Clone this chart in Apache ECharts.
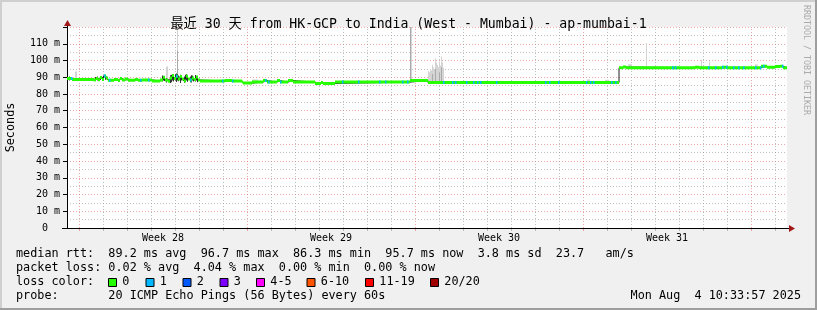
<!DOCTYPE html>
<html><head><meta charset="utf-8">
<script src="https://cdn.jsdelivr.net/npm/echarts@6/dist/echarts.min.js"></script>
<style>html,body{margin:0;padding:0;background:#f0f0f0;}#c{width:817px;height:310px;}</style>
</head><body><div id="c"></div>
<script>
// ---- data (x = hours since graph start, 30 days = 720 h; y = milliseconds) ----
const medianHours  = [0,5,27,29,31,33,35,37,39,41,47,51,53,55,58,61,68,71,75,85,93,96,98,101,103,105,107,109,111,113,115,117,119,121,123,125,127,129,131,133,158,165,175,176,185,196,200,210,213,221,226,248,254,256,268,343,361,552,556,559,628,632,655,660,690,694,700,708,713,716,720];
const medianValues = [89.3,88.6,88.4,89.2,88.5,89.8,88.7,90.8,89.6,88.2,88.6,88.1,89.3,88.3,88.9,88.2,88.7,88.2,88.4,87.8,88.3,90.0,88.4,87.6,89.5,91.0,89.2,90.6,88.9,90.4,89.0,87.7,90.6,89.0,88.3,89.6,88.6,90.2,88.4,87.8,88.0,87.8,87.2,86.5,87.1,88.0,87.1,88.0,87.1,88.0,87.1,86.3,86.9,86.3,87.1,88.0,86.8,95.6,96.1,95.7,96.0,95.6,95.9,95.6,95.7,96.5,96.0,96.4,96.6,95.7,95.7];
const loss1Hours = [4,37,42,73,81,109,123,155,165,198,201,213,275,291,312,318,335,340,376,385,388,399,406,410,413,429,478,482,491,519,523,526,544,548,605,608,641,648,655,659,666,671,676,688,693,696,715];
const smokeOuter = [[8,88.5,93.5],[9,88.5,93.5],[99,89,96.4],[100,89,96.4],[110,106,120],[344,88,120],
  [361,87.5,93.8],[362,87.5,93.0],[363,87.5,95.0],[364,87.5,94.0],[365,87.5,97.4],[366,87.5,96.0],[367,87.5,95.0],[368,87.5,101.0],[369,87.5,99.0],[370,87.5,97.4],[371,87.5,96.0],[372,87.5,99.4],[373,87.5,97.0],[374,87.5,102.4],[375,87.5,99.0],[376,87.5,95.5],
  [579,96.5,110.4],[634,96.5,100.4],[642,96.5,99.4],
  [520,87,88.6],[521,87,88.6],[522,87,88.6],[538,87,88.5],[539,87,88.5],[540,87,88.5],[541,87,88.5],
  [561,96,97.8],[562,96,97.8],[563,96,98],[564,96,97.8],[688,96.5,97.6],[689,96.5,97.6],[690,96.5,97.6],
  [185,87,88.6],[186,87,88.6],[187,87,88.6],[188,87,88.6],[189,87,88.6],[190,87,88.6]];
const smokeMid = [[110,91,106],[343,88,120],[365,87.5,92],[368,87.5,95],[372,87.5,93],[374,87.5,96]];
const smokeInner = [[2,88,90.5],[28,88,90.2],[30,88,90.5],[33,88.4,90.8],[36,88.2,91],[38,88.5,91.2],
  [95,87.5,91.0],[96,88,90.5],[97,87.8,90],[99,86.9,89.5],[103,86.5,91.2],[104,87,91.5],[105,88,92],[106,87.5,91.8],[108,88,91.8],[109,87.2,92.2],[110,88,92],[111,87.6,91],[113,86.5,91.5],[114,88,90.6],[117,86.7,90.5],[118,87.5,91.5],[119,88,91.8],[120,87.3,90.8],[123,87,90.5],[124,86.8,91.2],[125,88,91],[126,87.5,90.2],[128,87.5,91.3],[129,88,90.8],[130,87,90.5]];
const firstMidnight = 12;           // first day boundary (a Sunday) in hours after start
const weekLabels = ['Week 28','Week 29','Week 30','Week 31'];
const weekLabelHours = [96,264,432,600];
const yTickValues = [0,10,20,30,40,50,60,70,80,90,100,110,120];
const titleText = '最近 30 天 from HK-GCP to India (West - Mumbai) - ap-mumbai-1';
const statLines = [
  'median rtt:  89.2 ms avg  96.7 ms max  86.3 ms min  95.7 ms now  3.8 ms sd  23.7   am/s',
  'packet loss: 0.02 % avg  4.04 % max  0.00 % min  0.00 % now'
];
const lossLabels = ['0','1','2','3','4-5','6-10','11-19','20/20'];
const lossColors = ['#26ff00','#00b8ff','#0059ff','#7e00ff','#ff00ff','#ff5500','#ff0000','#a10000'];
const probeText = 'probe:       20 ICMP Echo Pings (56 Bytes) every 60s';
const dateText = 'Mon Aug  4 10:33:57 2025';

// ---- derived ----
const dayLines = [];
for (let h = firstMidnight, i = 0; h < 720; h += 24, i++) dayLines.push([h, i % 7 === 0 ? 1 : 0]);
const MG = 'rgba(224,80,80,0.5)', GR = 'rgba(143,143,143,0.56)';
function medianAt(h){ let v = medianValues[0]; for (let i=0;i<medianHours.length;i++){ if (medianHours[i] <= h) v = medianValues[i]; } return v; }
const blackData = medianHours.map((h,i)=>[h, medianValues[i]]);
const greenData = [];
for (let i=0;i<medianHours.length-1;i++){ greenData.push([medianHours[i], medianValues[i]], [medianHours[i+1], medianValues[i]], [medianHours[i+1], '-']); }
const blueData = [];
loss1Hours.forEach(h=>{ const v = medianAt(h); blueData.push([h, v],[h+1.5, v],[h+1.5,'-']); });

const MONO = "'DejaVu Sans Mono', 'Noto Sans CJK SC', monospace";
const LF = '11.8px ' + MONO;
function smokeRender(color){
  return function(params, api){
    const h = api.value(0), lo = api.value(1), hi = api.value(2);
    const p1 = api.coord([h, hi]), p2 = api.coord([h+1, lo]);
    return {type:'rect', shape:{x:p1[0], y:p1[1], width:Math.max(1,p2[0]-p1[0]), height:p2[1]-p1[1]}, style:{fill:color}};
  };
}
function gridRender(params, api){
  const h = api.value(0), major = api.value(1) === 1;
  const p0 = api.coord([h, 0]), p1 = api.coord([h, 120]);
  const x = Math.round(p0[0]) + 0.5;
  const c = major ? MG : GR;
  return {type:'group', children:[
    {type:'line', shape:{x1:x, y1:p0[1], x2:x, y2:p1[1]}, style:{stroke:c, lineWidth:1, lineDash:[1,2]}},
    {type:'line', shape:{x1:x, y1:p0[1]+1, x2:x, y2:p0[1]+3}, style:{stroke:c, lineWidth:1}}
  ]};
}

const lossBoxX = [108,145.5,182.5,219.5,256,306.5,365,430];
const graphics = [
  {type:'rect', shape:{x:0,y:0,width:817,height:2}, style:{fill:'#cfcfcf'}, silent:true},
  {type:'rect', shape:{x:0,y:0,width:2,height:310}, style:{fill:'#cfcfcf'}, silent:true},
  {type:'rect', shape:{x:0,y:308,width:817,height:2}, style:{fill:'#9e9e9e'}, silent:true},
  {type:'rect', shape:{x:815,y:0,width:2,height:310}, style:{fill:'#9e9e9e'}, silent:true},
  {type:'line', shape:{x1:67.5,y1:22,x2:67.5,y2:27}, style:{stroke:'#000',lineWidth:1}, silent:true},
  {type:'line', shape:{x1:787,y1:228.5,x2:790,y2:228.5}, style:{stroke:'#000',lineWidth:1}, silent:true},
  {type:'line', shape:{x1:62,y1:228.5,x2:67,y2:228.5}, style:{stroke:'#000',lineWidth:1}, silent:true},
  {type:'polygon', shape:{points:[[67.5,20],[64,26],[71,26]]}, style:{fill:'#a01818'}, silent:true},
  {type:'polygon', shape:{points:[[795,228.5],[789,225],[789,232]]}, style:{fill:'#a01818'}, silent:true},
  {type:'text', x:11, y:127.5, rotation:Math.PI/2, style:{text:'Seconds', font:LF, fill:'#000', align:'center', verticalAlign:'middle'}, silent:true},
  {type:'text', x:806.5, y:60, rotation:-Math.PI/2, style:{text:'RRDTOOL / TOBI OETIKER', font:'8.3px '+MONO, fill:'#aaaaaa', align:'center', verticalAlign:'middle'}, silent:true},
  {type:'text', x:16, y:254, style:{text:statLines[0], font:LF, fill:'#000', verticalAlign:'middle'}, silent:true},
  {type:'text', x:16, y:268, style:{text:statLines[1], font:LF, fill:'#000', verticalAlign:'middle'}, silent:true},
  {type:'text', x:16, y:282, style:{text:'loss color:', font:LF, fill:'#000', verticalAlign:'middle'}, silent:true},
  {type:'text', x:16, y:296, style:{text:probeText, font:LF, fill:'#000', verticalAlign:'middle'}, silent:true},
  {type:'text', x:801, y:296, style:{text:dateText, font:LF, fill:'#000', align:'right', verticalAlign:'middle'}, silent:true}
];
lossLabels.forEach((lab,i)=>{
  graphics.push({type:'rect', shape:{x:lossBoxX[i]+0.5, y:278.5, width:8, height:8}, style:{fill:lossColors[i], stroke:'#000', lineWidth:1}, silent:true});
  graphics.push({type:'text', x:lossBoxX[i]+14.3, y:282, style:{text:lab, font:LF, fill:'#000', verticalAlign:'middle'}, silent:true});
});

const chart = echarts.init(document.getElementById('c'), null, {renderer:'canvas'});
chart.setOption({
  backgroundColor:'#f0f0f0',
  animation:false,
  title:{text:titleText, left:'center', top:13, textStyle:{fontFamily:MONO, fontSize:13.2, fontWeight:'normal', color:'#000'}},
  grid:{left:67, top:27, width:720, height:201, show:true, backgroundColor:'#ffffff', borderWidth:0},
  xAxis:{type:'value', min:0, max:720,
    axisLine:{show:true, onZero:false, lineStyle:{color:'#000', width:1}},
    axisTick:{show:false},
    axisLabel:{customValues:weekLabelHours, formatter:v=>weekLabels[weekLabelHours.indexOf(v)] || '', fontFamily:MONO, fontSize:10, color:'#000', margin:5},
    splitLine:{show:false}
  },
  yAxis:{type:'value', min:0, max:120, interval:10,
    axisLine:{show:true, lineStyle:{color:'#000', width:1}},
    axisTick:{show:true, length:4, lineStyle:{color:'#000'}},
    minorTick:{show:false, splitNumber:2},
    axisLabel:{formatter:v=>(v===yTickValues[0]?'0  ':(v===yTickValues[yTickValues.length-1]?'':v+' m')), fontFamily:MONO, fontSize:10, color:'#000', margin:7},
    splitLine:{show:true, lineStyle:{color:MG, type:[1,2], width:1}},
    minorSplitLine:{show:true, lineStyle:{color:GR, type:[1,2], width:1}}
  },
  graphic:graphics,
  series:[
    {type:'custom', data:dayLines, renderItem:gridRender, encode:{x:0}, silent:true, z:1},
    {type:'custom', data:smokeOuter, renderItem:smokeRender('#d4d4d4'), encode:{x:0,y:[1,2]}, silent:true, z:2},
    {type:'custom', data:smokeMid, renderItem:smokeRender('#aaaaaa'), encode:{x:0,y:[1,2]}, silent:true, z:3},
    {type:'custom', data:smokeInner, renderItem:smokeRender('#353535'), encode:{x:0,y:[1,2]}, silent:true, z:4},
    {type:'line', data:blackData, step:'end', symbol:'none', lineStyle:{color:'#202020', width:1}, silent:true, z:5},
    {type:'line', data:greenData, symbol:'none', connectNulls:false, lineStyle:{color:'#26ff00', width:3, cap:'butt'}, silent:true, z:6},
    {type:'line', data:blueData, symbol:'none', connectNulls:false, lineStyle:{color:'#00b8ff', width:3, cap:'butt'}, silent:true, z:7}
  ]
});
</script></body></html>
